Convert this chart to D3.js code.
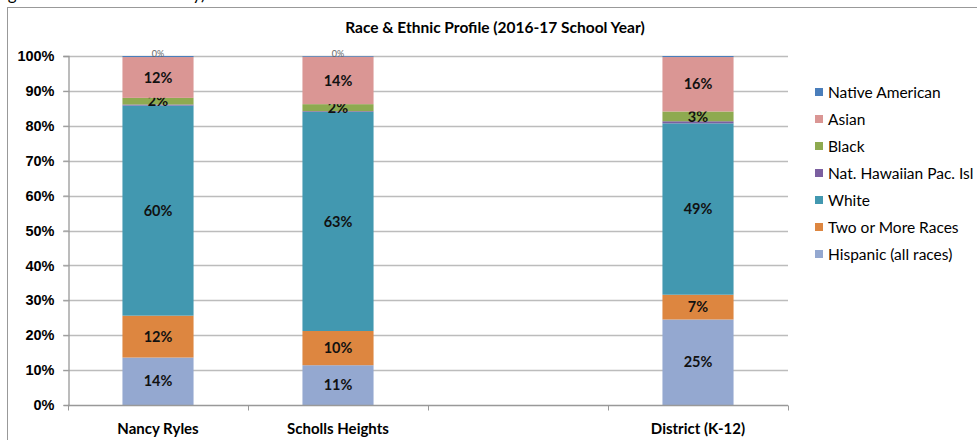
<!DOCTYPE html>
<html>
<head>
<meta charset="utf-8">
<script src="https://cdn.jsdelivr.net/npm/d3@7"></script>
<style>
  body { margin: 0; background: #fff; }
  svg { display: block; font-family: Lato, "Open Sans", sans-serif; }
</style>
</head>
<body>
<div class="chart"></div>
<script>
  // categories (third slot is an empty gap on the axis)
  var schools = ["Nancy Ryles", "Scholls Heights", "", "District (K-12)"];
  var groups = ["Hispanic (all races)", "Two or More Races", "White", "Nat. Hawaiian Pac. Isl", "Black", "Asian", "Native American"];
  var colors = ["#94a8d0", "#dd8640", "#4298b0", "#7b5fa0", "#8eaa50", "#da9694", "#4a7ebb"];

  // percent values per group, same order as schools
  var hispanic = [13.6, 11.4, null, 24.5];
  var twoOrMore = [12.0, 9.8, null, 7.1];
  var white = [60.2, 62.8, null, 49.1];
  var hawaiian = [0.3, 0.2, null, 0.6];
  var black = [1.9, 2.0, null, 2.8];
  var asian = [11.7, 13.6, null, 15.6];
  var nativeAm = [0.3, 0.2, null, 0.3];

  var yTicks = [0, 10, 20, 30, 40, 50, 60, 70, 80, 90, 100];

  var width = 977, height = 440;
  var svg = d3.select(".chart").append("svg")
    .attr("width", width)
    .attr("height", height);

  // chart frame
  svg.append("rect")
    .attr("x", 7.5).attr("y", 7.5)
    .attr("width", 1000).attr("height", 500)
    .attr("fill", "none").attr("stroke", "#999").attr("stroke-width", 1);

  // caption, mostly outside the top of the picture
  svg.append("text")
    .attr("x", -6).attr("y", 0)
    .style("font-size", "17px")
    .attr("fill", "#000")
    .text("Figure 5: Race and Ethnicity)");

  svg.append("text")
    .attr("x", 495).attr("y", 33)
    .attr("text-anchor", "middle")
    .style("font-size", "15.5px").style("font-weight", "bold")
    .text("Race & Ethnic Profile (2016-17 School  Year)");

  var x = d3.scaleBand()
    .domain(d3.range(schools.length))
    .range([68, 788])
    .paddingInner(0.605).paddingOuter(0.3025);

  var y = d3.scaleLinear().domain([0, 100]).range([405, 56]);

  // grid
  svg.append("g").selectAll("line")
    .data(yTicks.slice(1))
    .enter().append("line")
    .attr("x1", 63).attr("x2", 788)
    .attr("y1", function(d) { return Math.round(y(d)) + 0.5; })
    .attr("y2", function(d) { return Math.round(y(d)) + 0.5; })
    .attr("stroke", "#bcbcbc").attr("stroke-width", 1.3);

  // stacked data
  var series = [hispanic, twoOrMore, white, hawaiian, black, asian, nativeAm];
  var rows = schools.map(function(s, i) {
    var r = { i: i };
    groups.forEach(function(g, k) { r[g] = series[k][i] || 0; });
    return r;
  }).filter(function(r) { return schools[r.i] !== ""; });

  var stack = d3.stack().keys(groups)(rows);

  var layer = svg.append("g").selectAll("g")
    .data(stack)
    .enter().append("g")
    .attr("fill", function(d, k) { return colors[k]; });

  layer.selectAll("rect")
    .data(function(d) { return d; })
    .enter().append("rect")
    .attr("x", function(d) { return x(d.data.i); })
    .attr("width", x.bandwidth())
    .attr("y", function(d) { return y(d[1]); })
    .attr("height", function(d) { return y(d[0]) - y(d[1]); });

  // y axis
  var yAxis = svg.append("g")
    .attr("transform", "translate(68.5,0)")
    .call(d3.axisLeft(y).tickValues(yTicks).tickSize(5).tickFormat(function(d) { return d + "%"; }));
  yAxis.select(".domain").attr("stroke", "#999").attr("stroke-width", 1.3);
  yAxis.selectAll(".tick line").attr("stroke", "#999");
  yAxis.selectAll("text")
    .attr("x", -14)
    .style("font-size", "14.5px").style("font-weight", "bold")
    .attr("fill", "#000");

  // x axis with ticks between categories
  var xAxis = svg.append("g").attr("transform", "translate(0,405.5)");
  xAxis.append("line")
    .attr("x1", 68).attr("x2", 788)
    .attr("stroke", "#999").attr("stroke-width", 1.3);
  xAxis.selectAll(".tk")
    .data(d3.range(schools.length + 1))
    .enter().append("line")
    .attr("x1", function(i) { return Math.round(68 + i * x.step()) + 0.5; })
    .attr("x2", function(i) { return Math.round(68 + i * x.step()) + 0.5; })
    .attr("y1", 0).attr("y2", 5)
    .attr("stroke", "#999");
  xAxis.selectAll("text")
    .data(schools)
    .enter().append("text")
    .attr("x", function(d, i) { return x(i) + x.bandwidth() / 2; })
    .attr("y", 28)
    .attr("text-anchor", "middle")
    .style("font-size", "15px").style("font-weight", "bold")
    .text(function(d) { return d; });

  // data labels
  var labelled = ["Hispanic (all races)", "Two or More Races", "White", "Black", "Asian"];
  layer.selectAll("text")
    .data(function(d) {
      return d.filter(function(p) {
        if (labelled.indexOf(d.key) >= 0) return true;
        return d.key === "Native American" && p.data.i < 2;
      }).map(function(p) { p.key = d.key; return p; });
    })
    .enter().append("text")
    .attr("x", function(d) { return x(d.data.i) + x.bandwidth() / 2; })
    .attr("y", function(d) { return (y(d[0]) + y(d[1])) / 2; })
    .attr("dy", function(d) { return d.key === "Native American" ? "0.1em" : "0.36em"; })
    .attr("text-anchor", "middle")
    .attr("fill", function(d) { return d.key === "Native American" ? "#666" : "#111"; })
    .style("font-size", function(d) { return d.key === "Native American" ? "9px" : "14.5px"; })
    .style("font-weight", function(d) { return d.key === "Native American" ? "normal" : "bold"; })
    .text(function(d) { return Math.round(d[1] - d[0]) + "%"; });

  // legend (top group first)
  var legend = svg.append("g").selectAll("g")
    .data(groups.slice().reverse())
    .enter().append("g")
    .attr("transform", function(d, i) { return "translate(815," + (93 + i * 27) + ")"; });
  legend.append("rect")
    .attr("x", 0).attr("y", -5)
    .attr("width", 8).attr("height", 8)
    .attr("fill", function(d) { return colors[groups.indexOf(d)]; });
  legend.append("text")
    .attr("x", 13).attr("y", 0)
    .attr("dy", "0.35em")
    .style("font-size", "15.5px")
    .text(function(d) { return d; });
</script>
</body>
</html>
